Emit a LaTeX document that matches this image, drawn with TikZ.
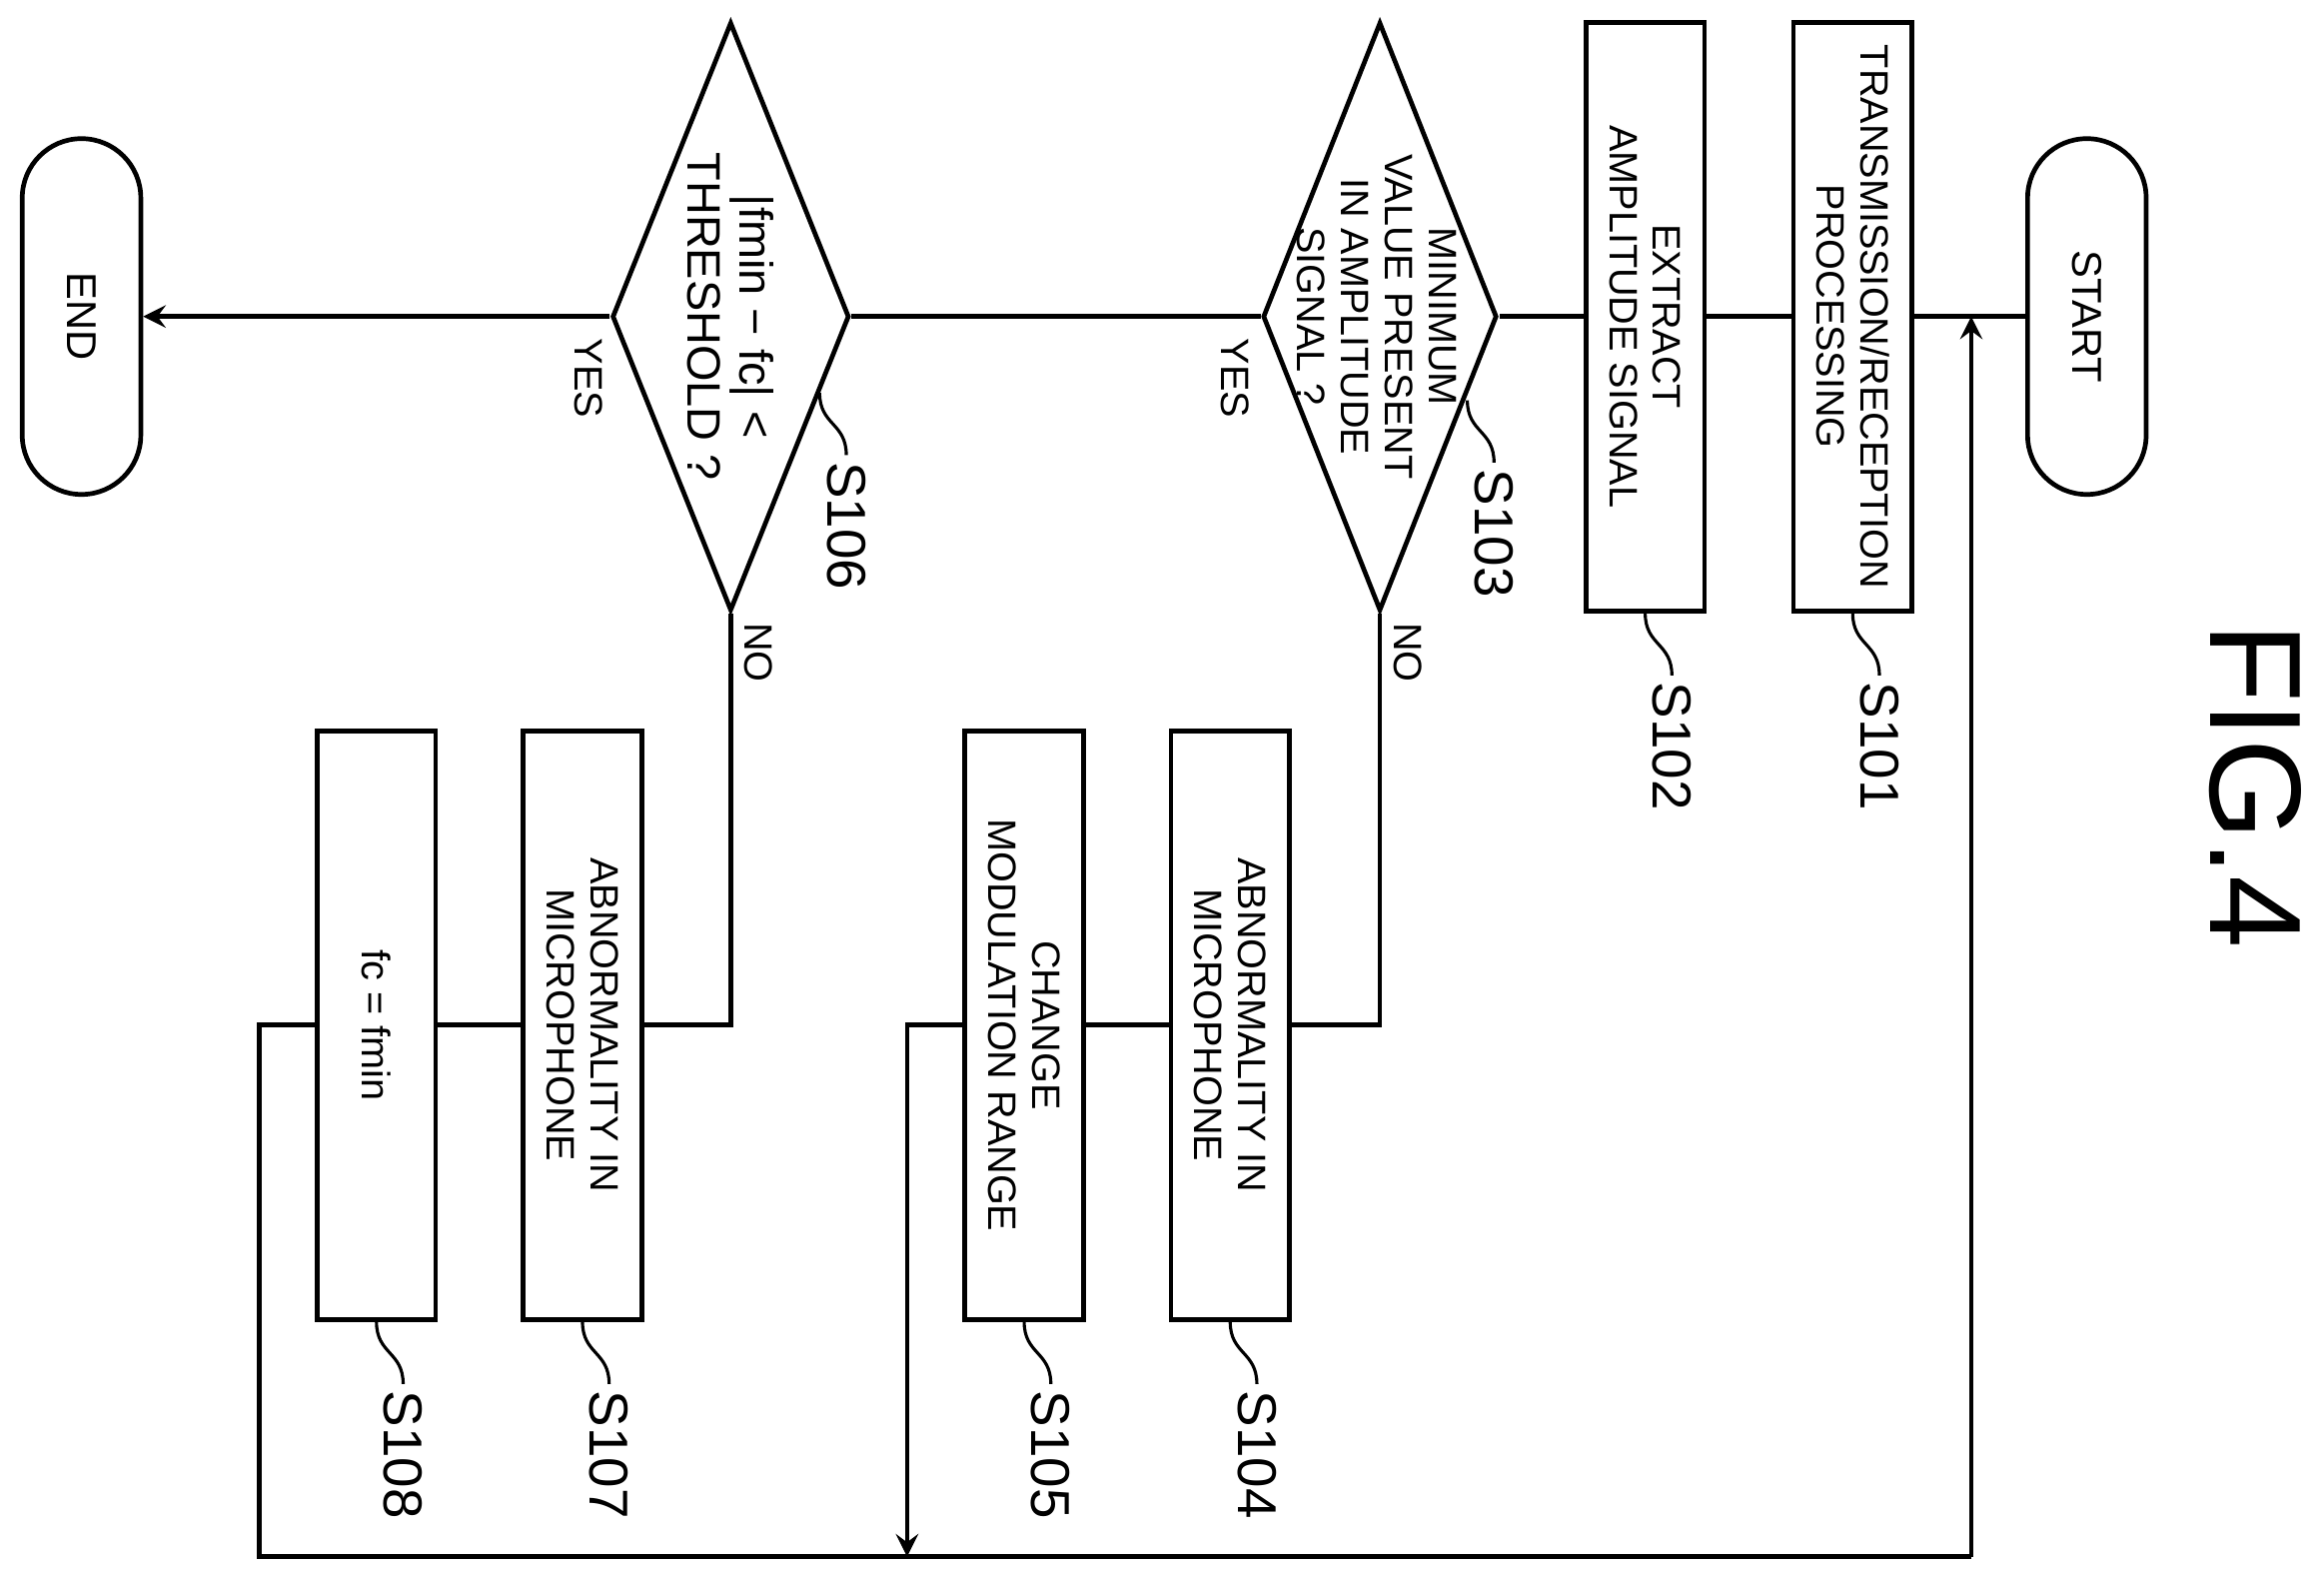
\documentclass[tikz,border=0pt]{standalone}
\usepackage{fontspec}
\setmainfont{Liberation Sans}
\usetikzlibrary{shapes.geometric}
\begin{document}
\begin{tikzpicture}[line width=0.9pt,>=stealth,
  box/.style={draw,rotate=-90,minimum width=3.97cm,minimum height=0.8cm,align=center,font=\fontsize{7.6}{8.4}\selectfont,inner sep=1pt},
  term/.style={draw,rotate=-90,rounded corners=0.4cm,minimum width=2.4cm,minimum height=0.8cm,font=\fontsize{8}{9}\selectfont},
  dia/.style={draw,diamond,rotate=-90,minimum width=3.97cm,inner sep=0pt},
  txt/.style={rotate=-90,align=center,font=\fontsize{7.6}{8.4}\selectfont,inner sep=0pt},
  lbl/.style={rotate=-90,font=\fontsize{10.5}{12}\selectfont,inner sep=0pt}]
\useasboundingbox (0,0) rectangle (15.68,-10.65);
\newcommand\steplbl[3]{\draw[line width=0.6pt] (#1) .. controls ++(0,-0.22) and ++(0,0.22) .. ++(0.18,-0.42) coordinate (#2tip); \node[lbl,anchor=west] (#2) at ([yshift=-0.03cm]#2tip) {#3};}
\node[term] (start) at (14.08,-2.135) {START};
\node[box] (s101) at (12.5,-2.135) {TRANSMISSION/RECEPTION\\PROCESSING};
\node[box] (s102) at (11.1,-2.135) {EXTRACT\\AMPLITUDE SIGNAL};
\node[dia,minimum height=1.58cm] (s103) at (9.31,-2.135) {};
\node[txt] (t103) at (9.29,-2.135) {MINIMUM\\VALUE PRESENT\\IN AMPLITUDE\\SIGNAL ?};
\node[dia,minimum height=1.6cm] (s106) at (4.93,-2.135) {};
\node[txt,font=\fontsize{9}{10}\selectfont] (t106) at (4.93,-2.135) {|fmin − fc| <\\THRESHOLD ?};
\node[term] (end) at (0.55,-2.135) {END};
\node[box] (s104) at (8.3,-6.915) {ABNORMALITY IN\\MICROPHONE};
\node[box] (s105) at (6.91,-6.915) {CHANGE\\MODULATION RANGE};
\node[box] (s107) at (3.93,-6.915) {ABNORMALITY IN\\MICROPHONE};
\node[box] (s108) at (2.54,-6.915) {fc = fmin};
\coordinate (c1) at (1.75,-10.5);
\coordinate (c2) at (13.3,-10.5);
\coordinate (c3) at (13.3,-2.135);
\coordinate (m1) at (6.12,-10.5);
\draw (start.south) -- (s101.north);
\draw (s101.south) -- (s102.north);
\draw (s102.south) -- (s103.north);
\draw (s103.south) -- (s106.north);
\draw[->] (s106.south) -- (end.north);
\draw (s103.east) -- (s103.east |- s104.north) -- (s104.north);
\draw (s104.south) -- (s105.north);
\draw[->] (s105.south) -| (m1);
\draw (s106.east) -- (s106.east |- s107.north) -- (s107.north);
\draw (s107.south) -- (s108.north);
\draw (s108.south) -| (c1) -- (c2);
\draw[->] (c2) -- (c3);
\node[txt] (y1) at (8.33,-2.55) {YES};
\node[txt] (n1) at (9.5,-4.4) {NO};
\node[txt] (y2) at (3.97,-2.55) {YES};
\node[txt] (n2) at (5.12,-4.4) {NO};
\steplbl{s101.east}{l101}{S101}
\steplbl{s102.east}{l102}{S102}
\steplbl{s104.east}{l104}{S104}
\steplbl{s105.east}{l105}{S105}
\steplbl{s107.east}{l107}{S107}
\steplbl{s108.east}{l108}{S108}
\steplbl{9.9,-2.7}{l103}{S103}
\steplbl{5.53,-2.65}{l106}{S106}
\node[rotate=-90,font=\fontsize{25}{27}\selectfont,inner sep=0pt] (fig) at (15.22,-5.3) {FIG.4};
\end{tikzpicture}
\end{document}
